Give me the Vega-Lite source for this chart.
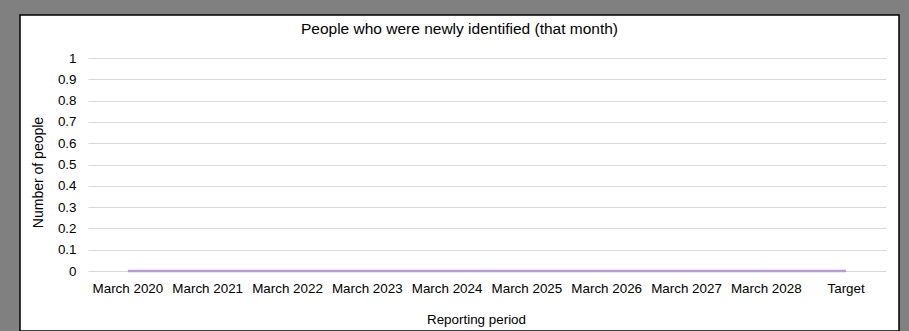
{
  "$schema": "https://vega.github.io/schema/vega-lite/v6.json",
  "autosize": "none",
  "width": 879,
  "height": 316,
  "padding": {"left": 20, "top": 15, "right": 10, "bottom": 0},
  "background": "#808080",
  "config": {
    "view": {"fill": "white", "stroke": "black", "strokeWidth": 1.5},
    "font": "Liberation Sans"
  },
  "title": {
    "text": "People who were newly identified (that month)",
    "anchor": "middle",
    "frame": "group",
    "offset": -34,
    "baseline": "alphabetic",
    "fontSize": 15.5,
    "fontWeight": "normal",
    "color": "black",
    "font": "Liberation Sans"
  },
  "data": {
    "values": [
      {"period": "March 2020", "people": 0},
      {"period": "March 2021", "people": 0},
      {"period": "March 2022", "people": 0},
      {"period": "March 2023", "people": 0},
      {"period": "March 2024", "people": 0},
      {"period": "March 2025", "people": 0},
      {"period": "March 2026", "people": 0},
      {"period": "March 2027", "people": 0},
      {"period": "March 2028", "people": 0},
      {"period": "Target", "people": 0}
    ]
  },
  "mark": {"type": "line", "color": "#b39ddb", "strokeWidth": 2.5},
  "encoding": {
    "x": {
      "field": "period",
      "type": "nominal",
      "sort": null,
      "scale": {"type": "band", "range": [68, 866], "paddingInner": 0, "paddingOuter": 0},
      "axis": {
        "title": "Reporting period",
        "offset": -60,
        "domain": false,
        "ticks": false,
        "grid": false,
        "labelAngle": 0,
        "labelPadding": 10,
        "labelFontSize": 13.4,
        "labelColor": "black",
        "labelFont": "Liberation Sans",
        "titleFontSize": 13.4,
        "titleFontWeight": "normal",
        "titleColor": "black",
        "titleFont": "Liberation Sans",
        "titleX": 456,
        "titleY": 52,
        "titleBaseline": "alphabetic"
      }
    },
    "y": {
      "field": "people",
      "type": "quantitative",
      "scale": {"domain": [0, 1], "range": [256, 43], "nice": false, "zero": true},
      "axis": {
        "title": "Number of people",
        "offset": -68,
        "values": [0, 0.1, 0.2, 0.3, 0.4, 0.5, 0.6, 0.7, 0.8, 0.9, 1],
        "format": ".1~f",
        "domain": false,
        "ticks": false,
        "grid": true,
        "gridColor": "#d9d9d9",
        "gridWidth": 1,
        "labelPadding": 12,
        "labelFontSize": 13.4,
        "labelColor": "black",
        "labelFont": "Liberation Sans",
        "titleFontSize": 14,
        "titleFontWeight": "normal",
        "titleColor": "black",
        "titleFont": "Liberation Sans",
        "titleAngle": 270,
        "titleX": -45.5,
        "titleY": 157,
        "titleBaseline": "alphabetic",
        "titleAlign": "center"
      }
    }
  }
}
